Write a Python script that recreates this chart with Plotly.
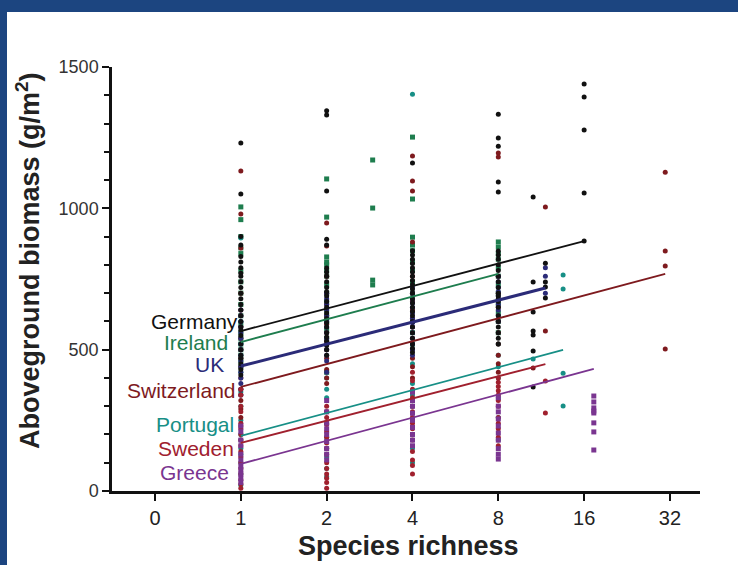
import math
import plotly.graph_objects as go

# ---------------- data ----------------
countries = ["Germany", "Ireland", "UK", "Switzerland", "Portugal", "Sweden", "Greece"]
colors = {"Germany": "#111111", "Ireland": "#1e7d4e", "UK": "#2b2b78",
          "Switzerland": "#7e1a1e", "Portugal": "#178f86", "Sweden": "#a0202e",
          "Greece": "#7a3590"}
symbols = {"Germany": "circle", "Ireland": "square", "UK": "circle",
           "Switzerland": "circle", "Portugal": "circle", "Sweden": "circle",
           "Greece": "square"}

germany_x = [1]*27 + [2]*24 + [4]*24 + [8]*24 + [10.6]*7 + [11.7]*4 + [16]*5
germany_y = [1231, 1051, 900, 870, 830, 810, 790, 770, 760, 740, 720, 700, 680, 660, 640,
             620, 600, 580, 570, 550, 520, 500, 480, 470, 450, 430, 410,
             1345, 1330, 1061, 891, 870, 789, 775, 760, 740, 720, 705, 690, 670, 650, 630,
             610, 595, 580, 560, 545, 530, 515, 500, 480,
             1160, 850, 835, 820, 805, 790, 775, 760, 745, 730, 715, 700, 680, 665, 650,
             635, 620, 600, 580, 560, 540, 520, 505, 490,
             1333, 1249, 1220, 1093, 1058, 849, 835, 820, 800, 780, 760, 740, 720, 700,
             690, 680, 670, 650, 620, 600, 580, 560, 540, 520,
             1040, 739, 633, 566, 552, 495, 368,
             806, 739, 722, 683,
             1440, 1394, 1277, 1054, 884]

ireland_x = [1]*18 + [2]*16 + [2.9]*4 + [4]*14 + [8]*12
ireland_y = [1005, 960, 900, 860, 840, 780, 740, 700, 660, 620, 590, 560, 540, 520, 500,
             480, 460, 440,
             1104, 969, 828, 810, 800, 780, 760, 730, 700, 670, 640, 620, 600, 570, 540, 420,
             1171, 1001, 746, 729,
             1252, 1033, 898, 870, 850, 810, 780, 740, 700, 670, 640, 600, 560, 520,
             881, 863, 840, 820, 790, 760, 730, 700, 660, 630, 600, 560]

uk_x = [1]*16 + [2]*14 + [4]*14 + [8]*10 + [11.7]*3
uk_y = [640, 620, 600, 580, 560, 540, 520, 500, 480, 460, 440, 420, 400, 380, 360, 340,
        700, 680, 660, 640, 620, 600, 580, 560, 540, 520, 500, 480, 460, 420,
        720, 700, 680, 665, 650, 630, 610, 595, 580, 560, 540, 520, 500, 480,
        760, 740, 720, 705, 690, 675, 660, 640, 620, 600,
        790, 760, 700]

switzerland_x = [1]*18 + [2]*14 + [4]*15 + [8]*11 + [10.6] + [11.7]*2 + [30.8]*4
switzerland_y = [1132, 980, 860, 700, 640, 620, 580, 540, 500, 470, 440, 400, 360, 340,
                 320, 290, 260, 230,
                 948, 867, 760, 700, 660, 620, 590, 560, 530, 500, 470, 430, 400, 380,
                 1185, 1097, 1061, 881, 760, 700, 670, 640, 610, 580, 540, 500, 470, 440, 400,
                 1196, 1182, 760, 700, 650, 600, 560, 520, 480, 450, 420,
                 435,
                 1005, 566,
                 1128, 849, 796, 502]

portugal_x = [1]*14 + [2]*10 + [4]*11 + [8]*8 + [10.6] + [13.5]*4
portugal_y = [895, 600, 520, 420, 350, 300, 250, 200, 180, 150, 130, 100, 60, 20,
              400, 360, 330, 280, 240, 190, 150, 120, 80, 50,
              1404, 600, 520, 450, 380, 340, 300, 250, 200, 150, 100,
              560, 520, 480, 440, 400, 330, 260, 180,
              467,
              764, 715, 417, 301]

sweden_x = [1]*17 + [2]*15 + [4]*14 + [8]*12 + [11.7]*2
sweden_y = [360, 340, 300, 280, 240, 220, 200, 180, 160, 140, 120, 100, 80, 60, 40, 25, 10,
            300, 280, 260, 235, 210, 190, 170, 150, 130, 100, 80, 60, 45, 30, 10,
            420, 390, 360, 330, 300, 280, 260, 240, 220, 180, 140, 110, 90, 60,
            400, 385, 370, 355, 340, 320, 300, 260, 240, 220, 190, 160,
            389, 276]

greece_x = [1]*11 + [2]*9 + [4]*9 + [8]*10 + [17.3]*8
greece_y = [230, 210, 180, 160, 130, 110, 90, 75, 60, 45, 30,
            320, 280, 240, 220, 200, 175, 150, 130, 110,
            350, 320, 300, 275, 250, 225, 200, 180, 160,
            330, 300, 280, 255, 230, 205, 180, 150, 130, 113,
            336, 315, 294, 283, 276, 241, 209, 145]

points = {"Germany": (germany_x, germany_y), "Ireland": (ireland_x, ireland_y),
          "UK": (uk_x, uk_y), "Switzerland": (switzerland_x, switzerland_y),
          "Portugal": (portugal_x, portugal_y), "Sweden": (sweden_x, sweden_y),
          "Greece": (greece_x, greece_y)}

# regression lines: (richness start, biomass start, richness end, biomass end)
line_x0 = [1, 1, 1, 1, 1, 1, 1]
line_y0 = [566, 527, 442, 368, 195, 170, 96]
line_x1 = [16, 8, 11.7, 30.8, 13.5, 11.7, 17.3]
line_y1 = [884, 768, 718, 768, 499, 449, 432]

# label positions (biomass value of label centre)
label_y = [598, 524, 449, 357, 237, 149, 64]
label_shift = [-1, -11, -15, -3, -5, -5, -10]

tick_vals = [0.5, 1, 2, 4, 8, 16, 32]
tick_text = ["0", "1", "2", "4", "8", "16", "32"]

# ---------------- figure ----------------
fig = go.Figure()

draw_order = ["Ireland", "Portugal", "Switzerland", "UK", "Germany", "Sweden", "Greece"]
for c in draw_order:
    xs, ys = points[c]
    fig.add_trace(go.Scatter(x=xs, y=ys, mode="markers",
                             marker=dict(color=colors[c], size=5, symbol=symbols[c]),
                             cliponaxis=False, showlegend=False, hoverinfo="x+y"))

for i, c in enumerate(countries):
    w = 3 if c == "UK" else 1.8
    fig.add_trace(go.Scatter(x=[line_x0[i], line_x1[i]], y=[line_y0[i], line_y1[i]],
                             mode="lines", line=dict(color=colors[c], width=w),
                             showlegend=False, hoverinfo="skip"))

annotations = []
for i, c in enumerate(countries):
    annotations.append(dict(x=0, y=label_y[i], xref="x", yref="y", text=c,
                            showarrow=False, xanchor="right", yanchor="middle",
                            xshift=label_shift[i],
                            font=dict(family="Liberation Sans, Arial", size=21, color=colors[c])))

annotations.append(dict(x=(408 - 112) / 588, y=(491 - 546) / 424, xref="paper", yref="paper",
                        text="<b>Species richness</b>", showarrow=False,
                        xanchor="center", yanchor="middle",
                        font=dict(family="Liberation Sans, Arial", size=27, color="#222222")))
annotations.append(dict(x=(28 - 112) / 588, y=(491 - 261) / 424, xref="paper", yref="paper",
                        text="<b>Aboveground biomass (g/m<sup>2</sup>)</b>", showarrow=False,
                        textangle=-90, xanchor="center", yanchor="middle",
                        font=dict(family="Liberation Sans, Arial", size=27, color="#222222")))

lo = math.log10(2 ** -1.501)
hi = math.log10(2 ** 5.35)

shapes = [
    dict(type="rect", xref="paper", yref="paper", x0=(0 - 112) / 588, x1=(738 - 112) / 588,
         y0=(491 - 12) / 424, y1=(491 - 0) / 424, fillcolor="#1c4580", line=dict(width=0),
         layer="below"),
    dict(type="rect", xref="paper", yref="paper", x0=(0 - 112) / 588, x1=(7 - 112) / 588,
         y0=(491 - 565) / 424, y1=(491 - 0) / 424, fillcolor="#1c4580", line=dict(width=0),
         layer="below"),
]

fig.update_layout(
    width=738, height=565,
    margin=dict(l=112, r=38, t=67, b=74),
    paper_bgcolor="white", plot_bgcolor="white",
    showlegend=False,
    annotations=annotations, shapes=shapes,
    xaxis=dict(type="log", range=[lo, hi], tickvals=tick_vals, ticktext=tick_text,
               showgrid=False, zeroline=False, showline=True, linecolor="#111111",
               linewidth=2.5, ticks="outside", ticklen=7, tickwidth=2, tickcolor="#111111",
               tickfont=dict(family="Liberation Sans Narrow, Liberation Sans, Arial", size=20,
                             color="#222222")),
    yaxis=dict(range=[0, 1500], tickvals=[0, 500, 1000, 1500], showgrid=False,
               zeroline=False, showline=True, linecolor="#111111", linewidth=2.5,
               ticks="outside", ticklen=7, tickwidth=2, tickcolor="#111111",
               minor=dict(dtick=100, ticks="outside", ticklen=5, tickwidth=2,
                          tickcolor="#111111"),
               tickfont=dict(family="Liberation Sans, Arial", size=18, color="#333333")),
)

fig.write_html("out.html")
